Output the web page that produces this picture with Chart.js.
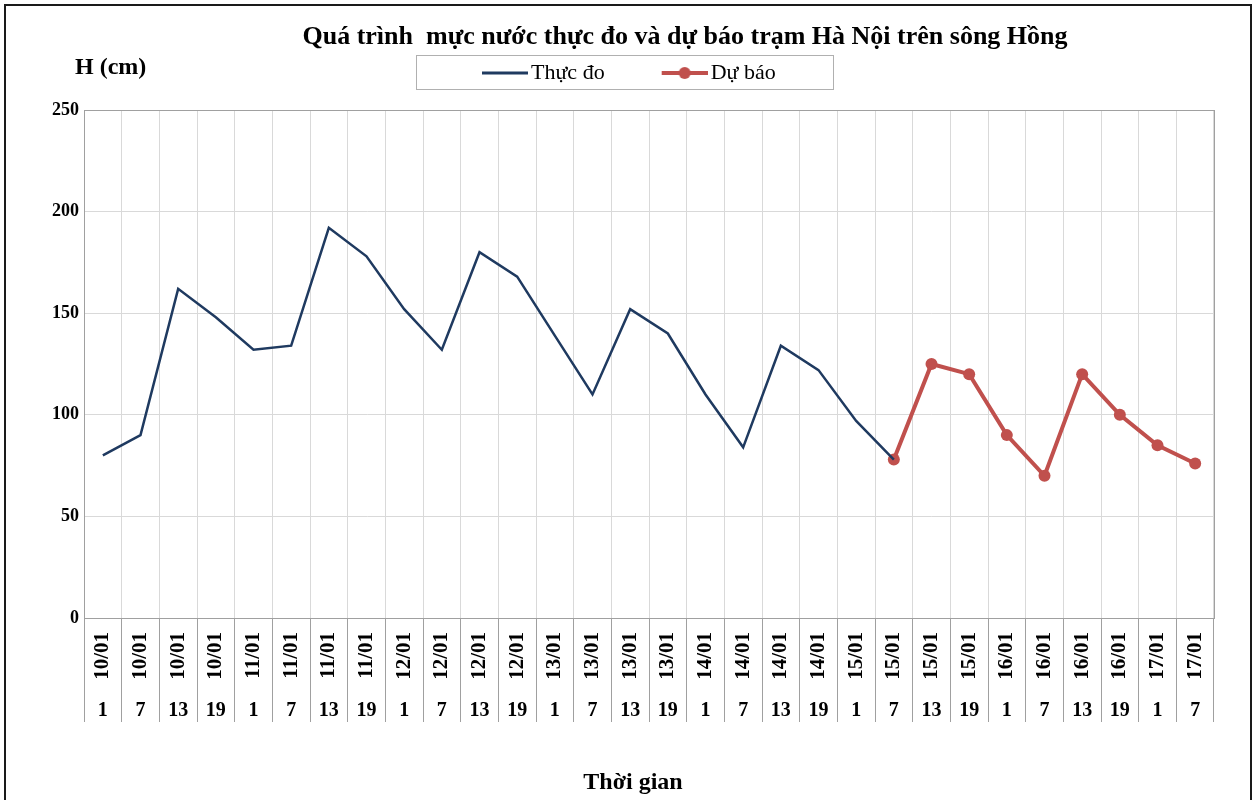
<!DOCTYPE html>
<html>
<head>
<meta charset="utf-8">
<script src="https://cdn.jsdelivr.net/npm/chart.js@4.4.1/dist/chart.umd.min.js"></script>
<style>
html,body{margin:0;padding:0;background:#fff;}
#wrap{width:1256px;height:800px;position:relative;}
</style>
</head>
<body>
<div id="wrap"><canvas id="c" width="1256" height="800"></canvas></div>
<script>
// ---- DATA ----
const dates = ['10/01','10/01','10/01','10/01','11/01','11/01','11/01','11/01',
  '12/01','12/01','12/01','12/01','13/01','13/01','13/01','13/01',
  '14/01','14/01','14/01','14/01','15/01','15/01','15/01','15/01',
  '16/01','16/01','16/01','16/01','17/01','17/01'];
const hours = ['1','7','13','19','1','7','13','19','1','7','13','19','1','7','13','19',
  '1','7','13','19','1','7','13','19','1','7','13','19','1','7'];
const actual = [80, 90, 162, 148, 132, 134, 192, 178, 152, 132, 180, 168, 139, 110, 152, 140,
  110, 84, 134, 122, 97, 78, null, null, null, null, null, null, null, null];
const forecast = [null, null, null, null, null, null, null, null, null, null, null, null, null, null, null, null,
  null, null, null, null, null, 78, 125, 120, 90, 70, 120, 100, 85, 76];
const seriesNames = ['Thực đo', 'Dự báo'];
const yTicks = {min: 0, max: 250, step: 50};
const titleText = 'Quá trình  mực nước thực đo và dự báo trạm Hà Nội trên sông Hồng';
const yTitle = 'H (cm)';
const xTitle = 'Thời gian';

// ---- STYLE ----
const FONT = "'Liberation Serif','Times New Roman',serif";
const NAVY = '#1f3a60';
const RED = '#c0504d';
const GRID = '#d9d9d9';
const AXIS = '#a0a0a0';

function legendImg(color, marker) {
  const c = document.createElement('canvas');
  c.width = 101; c.height = 16;
  const g = c.getContext('2d');
  g.strokeStyle = color; g.lineWidth = marker ? 4 : 3;
  g.beginPath(); g.moveTo(55, 8); g.lineTo(101, 8); g.stroke();
  if (marker) { g.fillStyle = color; g.beginPath(); g.arc(78, 8, 6, 0, Math.PI * 2); g.fill(); }
  return c;
}
const legendImgs = [legendImg(NAVY, false), legendImg(RED, true)];

const decor = {
  id: 'decor',
  beforeDraw(chart) {
    const ctx = chart.ctx;
    ctx.save(); ctx.fillStyle = '#fff'; ctx.fillRect(0, 0, chart.width, chart.height); ctx.restore();
  },
  afterLayout(chart) {
    const t = chart.titleBlock;
    if (t) { const dx = 685 - (t.left + t.right) / 2; t.left += dx; t.right += dx; }
    const lg = chart.legend;
    if (lg && lg.lineWidths) {
      const lw = lg.lineWidths[0];
      const cx = (lg.left + 10 + lg.right - lw) / 2;
      const dx = 435 - cx;
      lg.left += dx; lg.right += dx;
      const h = lg.bottom - lg.top;
      lg.top = 52; lg.bottom = 52 + h;
    }
    // move only the x-axis title box (ticks keep their configured pixels)
    const s = chart.scales.x2;
    if (s) { const dx = 633 - (s.left + s.right) / 2; s.left += dx; s.right += dx; }
  },
  beforeDatasetsDraw(chart) {
    const ctx = chart.ctx, a = chart.chartArea;
    ctx.save(); ctx.strokeStyle = AXIS; ctx.lineWidth = 1;
    ctx.strokeRect(Math.round(a.left) + 0.5, Math.round(a.top) + 0.5, Math.round(a.right - a.left), Math.round(a.bottom - a.top));
    ctx.restore();
  },
  afterDraw(chart) {
    const ctx = chart.ctx;
    ctx.save();
    // outer frame
    ctx.strokeStyle = '#1a1a1a'; ctx.lineWidth = 2;
    ctx.strokeRect(5, 5, 1246, 810);
    // y title
    ctx.fillStyle = '#000'; ctx.font = 'bold 24px ' + FONT;
    ctx.textAlign = 'left'; ctx.textBaseline = 'middle';
    ctx.fillText(yTitle, 75, 68);
    // legend frame
    const lg = chart.legend;
    if (lg && lg.lineWidths) {
      const lw = lg.lineWidths[0];
      const cx = (lg.left + 10 + lg.right - lw) / 2;
      const left = Math.round(cx - 19), right = Math.round(cx + lw - 10 + 57);
      const top = Math.round(lg.top + 21 - 18);
      ctx.strokeStyle = '#b0b0b0'; ctx.lineWidth = 1;
      ctx.strokeRect(left + 0.5, top + 0.5, right - left, 34);
    }
    ctx.restore();
  }
};

new Chart(document.getElementById('c'), {
  type: 'line',
  data: {
    labels: dates,
    datasets: [
      { label: seriesNames[0], data: actual, borderColor: NAVY, backgroundColor: NAVY,
        borderWidth: 2.5, pointRadius: 0, tension: 0, spanGaps: false },
      { label: seriesNames[1], data: forecast, borderColor: RED, backgroundColor: RED,
        borderWidth: 4, pointRadius: 6, pointBorderWidth: 0, pointBackgroundColor: RED, tension: 0 }
    ]
  },
  options: {
    responsive: false,
    devicePixelRatio: 1,
    animation: false,
    events: [],
    layout: { padding: { left: 0, right: 42, top: 0, bottom: 0 } },
    plugins: {
      tooltip: { enabled: false },
      title: {
        display: true, text: titleText, color: '#000',
        font: { family: FONT, size: 26, weight: 'bold', lineHeight: 1.2 },
        padding: { top: 21.4, bottom: 15.4 }
      },
      legend: {
        display: true, position: 'top',
        labels: {
          usePointStyle: true, pointStyleWidth: 85, padding: 10, color: '#000',
          font: { family: FONT, size: 22 },
          generateLabels(chart) {
            const items = Chart.defaults.plugins.legend.labels.generateLabels(chart);
            items.forEach((it, i) => { it.pointStyle = legendImgs[i]; it.lineWidth = 0; it.fontColor = '#000'; });
            return items;
          }
        }
      }
    },
    scales: {
      x: {
        type: 'category', position: 'bottom', offset: true, weight: 0,
        grid: { color: GRID, offset: true, drawTicks: true, tickLength: 72, tickColor: AXIS, tickWidth: 1 },
        border: { display: true, color: AXIS },
        ticks: { autoSkip: false, minRotation: 90, maxRotation: 90, padding: -58, color: '#000',
          font: { family: FONT, size: 21, weight: 'bold' } },
        afterFit(s) { s.height = 72; }
      },
      x2: {
        type: 'category', position: 'bottom', labels: hours, offset: true, weight: 1,
        grid: { drawOnChartArea: false, offset: true, drawTicks: true, tickLength: 32, tickColor: AXIS, color: AXIS },
        border: { display: false },
        ticks: { autoSkip: false, maxRotation: 0, minRotation: 0, padding: -23, color: '#000',
          font: { family: FONT, size: 20, weight: 'bold' } },
        title: { display: true, text: xTitle, color: '#000',
          font: { family: FONT, size: 24, weight: 'bold', lineHeight: 1.2 }, padding: { top: 0, bottom: 3 } },
        afterFit(s) { s.height = 110; }
      },
      y: {
        type: 'linear', position: 'left', min: yTicks.min, max: yTicks.max,
        grid: { color: GRID, drawTicks: false },
        border: { display: true, color: AXIS },
        ticks: { stepSize: yTicks.step, padding: 5, color: '#000',
          font: { family: FONT, size: 18, weight: 'bold' } },
        afterFit(s) { s.width = 84; }
      }
    }
  },
  plugins: [decor]
});
</script>
</body>
</html>
